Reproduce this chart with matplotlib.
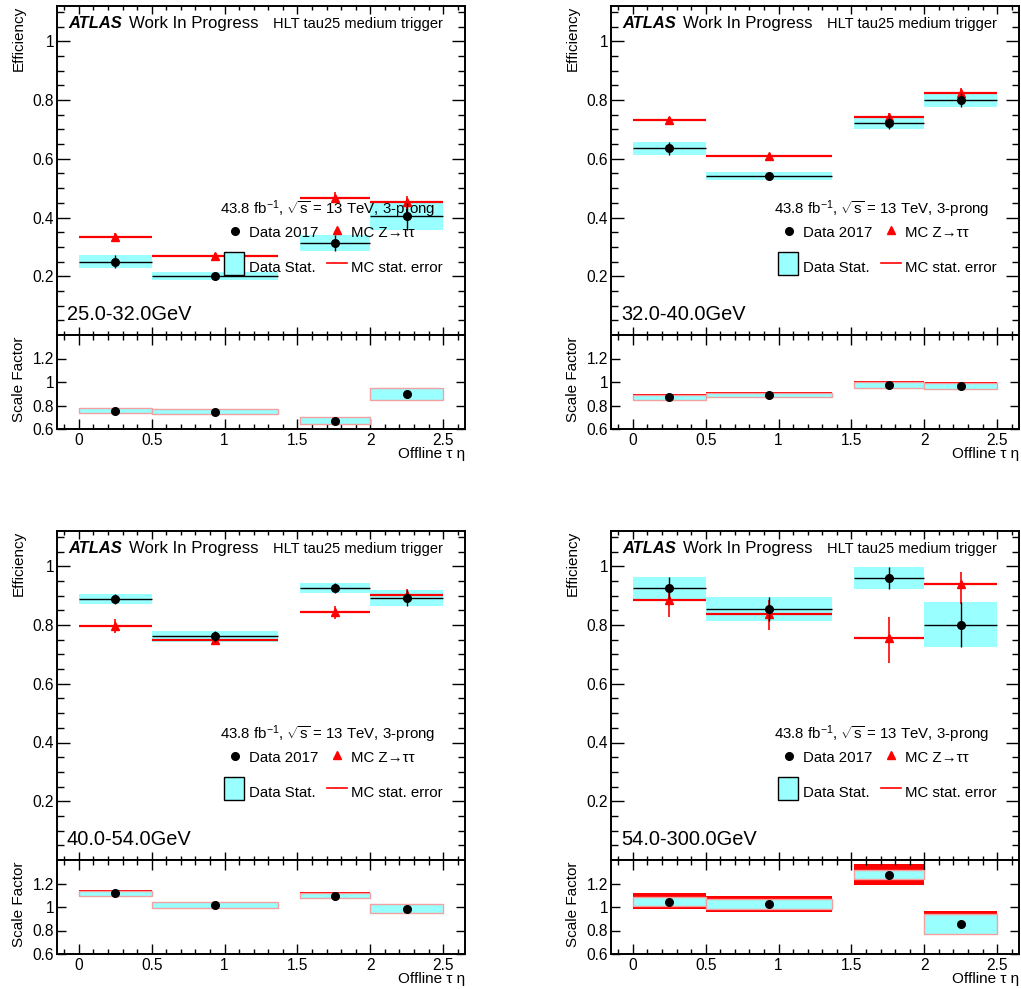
import matplotlib
matplotlib.use("Agg")
import matplotlib.pyplot as plt
from matplotlib.patches import Rectangle
from matplotlib.lines import Line2D
from matplotlib.ticker import MultipleLocator, FixedLocator, FuncFormatter
import numpy as np

plt.rcParams["font.family"] = ["Liberation Sans", "DejaVu Sans"]
plt.rcParams["mathtext.fontset"] = "custom"
plt.rcParams["mathtext.rm"] = "Liberation Sans"
plt.rcParams["mathtext.it"] = "Liberation Sans:italic"

# offline tau eta binning (crack region 1.37-1.52 excluded)
eta_lo = [0.0, 0.5, 1.52, 2.0]
eta_hi = [0.5, 1.37, 2.0, 2.5]

pt_bins = ["25.0-32.0GeV", "32.0-40.0GeV", "40.0-54.0GeV", "54.0-300.0GeV"]

# data 2017 efficiency and stat. error, one row per pT bin
data_eff = [
    [0.250, 0.200, 0.313, 0.405],
    [0.635, 0.542, 0.723, 0.799],
    [0.890, 0.761, 0.926, 0.892],
    [0.926, 0.856, 0.960, 0.801],
]
data_err = [
    [0.021, 0.014, 0.027, 0.046],
    [0.021, 0.014, 0.021, 0.024],
    [0.017, 0.018, 0.017, 0.026],
    [0.036, 0.041, 0.037, 0.077],
]

# MC Z->tautau efficiency with asymmetric stat. error
mc_eff = [
    [0.332, 0.268, 0.468, 0.452],
    [0.732, 0.609, 0.742, 0.825],
    [0.797, 0.748, 0.844, 0.903],
    [0.885, 0.836, 0.755, 0.939],
]
mc_err_lo = [
    [0.015, 0.010, 0.020, 0.022],
    [0.010, 0.008, 0.015, 0.015],
    [0.023, 0.010, 0.022, 0.020],
    [0.057, 0.053, 0.083, 0.067],
]
mc_err_hi = [
    [0.015, 0.010, 0.020, 0.022],
    [0.010, 0.008, 0.015, 0.015],
    [0.023, 0.010, 0.022, 0.020],
    [0.045, 0.049, 0.072, 0.043],
]

# scale factors data/MC
sf = [
    [0.757, 0.746, 0.671, 0.900],
    [0.869, 0.891, 0.977, 0.969],
    [1.117, 1.017, 1.097, 0.986],
    [1.046, 1.023, 1.274, 0.854],
]
sf_data_err = [
    [0.0225, 0.0215, 0.027, 0.0525],
    [0.024, 0.0185, 0.027, 0.026],
    [0.021, 0.026, 0.021, 0.037],
    [0.036, 0.043, 0.0385, 0.083],
]
sf_mc_lo = [
    [0.020, 0.018, 0.034, 0.030],
    [0.020, 0.015, 0.025, 0.025],
    [0.031, 0.020, 0.028, 0.020],
    [0.063, 0.066, 0.091, 0.070],
]
sf_mc_hi = [
    [0.023, 0.022, 0.032, 0.030],
    [0.028, 0.023, 0.029, 0.031],
    [0.029, 0.020, 0.029, 0.020],
    [0.071, 0.071, 0.092, 0.109],
]

CYAN = "#99ffff"
RED = "#ff0000"
PINK = "#f4a0a0"

W, H = 1021, 989
fig = plt.figure(figsize=(W / 100, H / 100), dpi=100)


def px_axes(left, top, width, height):
    return fig.add_axes([left / W, 1 - (top + height) / H, width / W, height / H])


def fmt(v, _):
    return f"{v:g}"


def style(ax, ymajor, yminor, ylen, xlen):
    ax.tick_params(which="both", direction="in", top=True, right=True,
                   labelsize=11.2, width=1.0, pad=2)
    ax.tick_params(which="major", axis="y", length=ylen[0])
    ax.tick_params(which="minor", axis="y", length=ylen[1])
    ax.tick_params(which="major", axis="x", length=xlen[0])
    ax.tick_params(which="minor", axis="x", length=xlen[1])
    ax.xaxis.set_major_locator(MultipleLocator(0.5))
    ax.xaxis.set_minor_locator(MultipleLocator(0.1))
    ax.yaxis.set_major_locator(FixedLocator(ymajor))
    if yminor:
        ax.yaxis.set_minor_locator(MultipleLocator(yminor))
    ax.yaxis.set_major_formatter(FuncFormatter(fmt))
    ax.xaxis.set_major_formatter(FuncFormatter(fmt))
    for s in ax.spines.values():
        s.set_linewidth(1.4)


def draw_panel(k, left, top):
    lo = np.array(eta_lo)
    hi = np.array(eta_hi)
    xc = (lo + hi) / 2
    wd = hi - lo
    d, de = np.array(data_eff[k]), np.array(data_err[k])
    m = np.array(mc_eff[k])
    mlo, mhi = np.array(mc_err_lo[k]), np.array(mc_err_hi[k])

    ax = px_axes(left, top, 408, 329)
    ax.bar(xc, 2 * de, width=wd, bottom=d - de, color=CYAN, lw=0, zorder=1)
    ax.hlines(d, lo, hi, color="black", lw=1.0, zorder=2)
    ax.hlines(m, lo, hi, color=RED, lw=1.6, zorder=3)
    ax.errorbar(xc, m, yerr=[mlo, mhi], fmt="^", color=RED, ms=5.5,
                elinewidth=1.2, capsize=0, zorder=4)
    ax.errorbar(xc, d, yerr=de, fmt="o", color="black", ms=5.5,
                elinewidth=1.0, capsize=0, zorder=5)
    ax.set_xlim(-0.15, 2.65)
    ax.set_ylim(0, 1.12)
    style(ax, [0.2, 0.4, 0.6, 0.8, 1.0], 0.05, (9.5, 5), (6, 3))
    ax.tick_params(axis="x", labelbottom=False)

    tr = ax.transAxes
    ax.text(-0.093, 1.0, "Efficiency", transform=tr, rotation=90,
            ha="center", va="top", fontsize=11)
    ax.text(0.0278, 0.932, "ATLAS", transform=tr, fontsize=11.9,
            fontweight="bold", fontstyle="italic", va="baseline")
    ax.text(0.1765, 0.932, "Work In Progress", transform=tr, fontsize=12.1,
            va="baseline")
    ax.text(0.946, 0.932, "HLT tau25 medium trigger", transform=tr,
            fontsize=10.5, ha="right", va="baseline")
    ax.text(0.0245, 0.0456, pt_bins[k], transform=tr, fontsize=14.4,
            va="baseline")

    # legend block
    ax.text(0.3995, 0.367,
            r"43.8 fb$^{-1}$, $\sqrt{\mathrm{s}}$ = 13 TeV, 3-prong",
            transform=tr, fontsize=10.8, va="baseline")
    ax.plot([0.4355], [0.317], "o", color="black", ms=5.5, transform=tr,
            clip_on=False)
    ax.text(0.4706, 0.297, "Data 2017", transform=tr, fontsize=10.8,
            va="baseline")
    ax.plot([0.6855], [0.318], "^", color=RED, ms=5.5, transform=tr,
            clip_on=False)
    ax.text(0.7206, 0.297, "MC Z\u2192\u03c4\u03c4", transform=tr,
            fontsize=10.8, va="baseline")
    ax.add_patch(Rectangle((0.410, 0.1815), 0.049, 0.0708, transform=tr,
                           facecolor=CYAN, edgecolor="black", lw=1.0,
                           zorder=6))
    ax.text(0.4706, 0.192, "Data Stat.", transform=tr, fontsize=10.8,
            va="baseline")
    ax.add_line(Line2D([0.661, 0.710], [0.218, 0.218], transform=tr,
                       color=RED, lw=1.2))
    ax.text(0.7206, 0.192, "MC stat. error", transform=tr, fontsize=10.8,
            va="baseline")

    # scale factor pad
    r = px_axes(left, top + 329, 408, 94)
    s = np.array(sf[k])
    se = np.array(sf_data_err[k])
    slo, shi = np.array(sf_mc_lo[k]), np.array(sf_mc_hi[k])
    r.bar(xc, slo + shi, width=wd, bottom=s - slo, color=RED, lw=0,
          zorder=1)
    r.bar(xc, 2 * se, width=wd, bottom=s - se, facecolor=CYAN,
          edgecolor=PINK, lw=1.0, zorder=2)
    r.plot(xc, s, "o", color="black", ms=5.5, zorder=3)
    r.set_xlim(-0.15, 2.65)
    r.set_ylim(0.6, 1.4)
    style(r, [0.6, 0.8, 1.0, 1.2], None, (6.5, 3), (7, 3.5))
    r.tick_params(axis="x", pad=3)
    r.text(-0.093, 0.98, "Scale Factor", transform=r.transAxes, rotation=90,
           ha="center", va="top", fontsize=11)
    r.text(1.0, -0.27, "Offline \u03c4 \u03b7", transform=r.transAxes,
           ha="right", va="center", fontsize=11)


draw_panel(0, 57, 6)
draw_panel(1, 611, 6)
draw_panel(2, 57, 531)
draw_panel(3, 611, 531)

fig.savefig("out.png", dpi=100)
